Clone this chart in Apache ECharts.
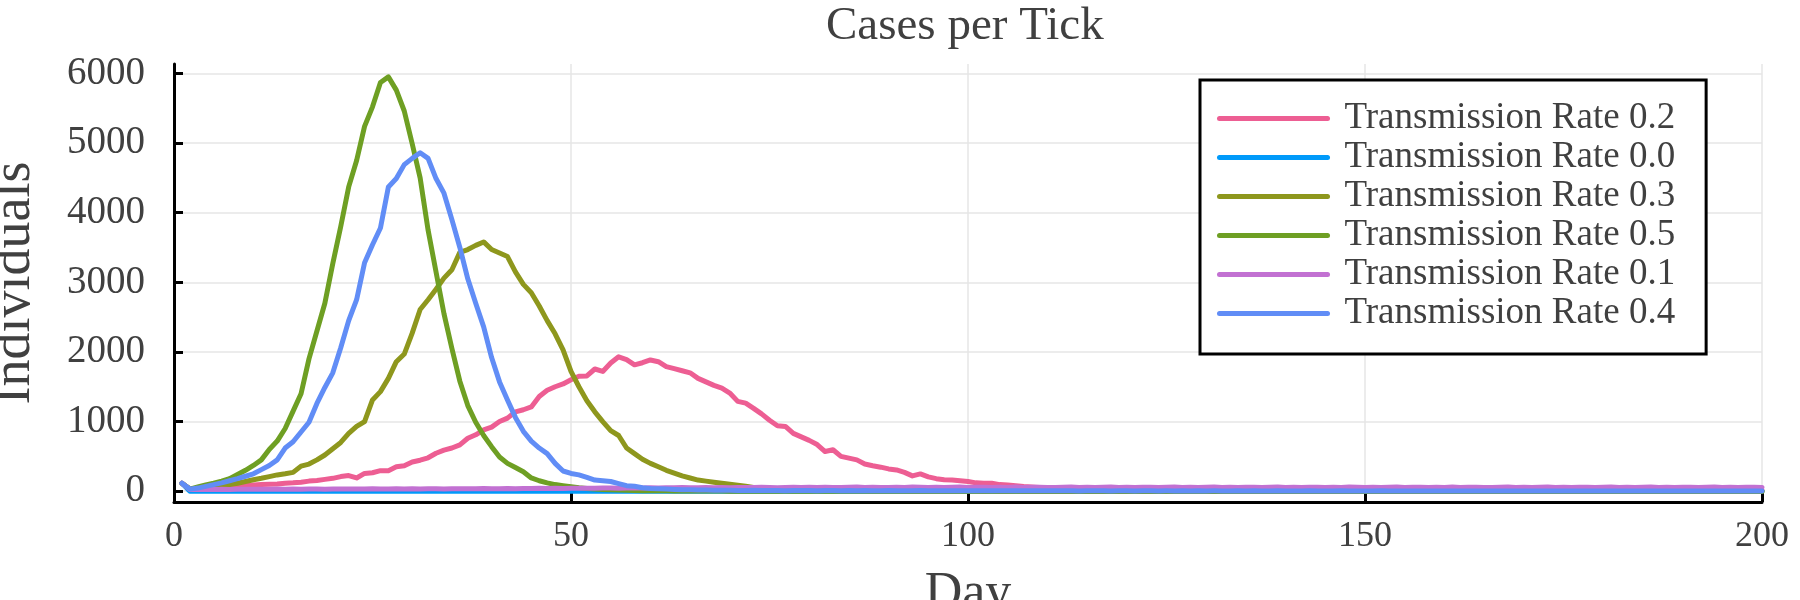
<!DOCTYPE html>
<html lang="en">
<head>
    <meta charset="UTF-8">
    <title>Cases per Tick</title>
    <script src="https://cdn.jsdelivr.net/npm/echarts@6.0.0/dist/echarts.min.js"></script>
    <style>
        html, body {
            margin: 0;
            padding: 0;
            background: #ffffff;
        }

        #chart {
            width: 1800px;
            height: 600px;
        }
    </style>
</head>
<body>
<div id="chart"></div>
<script>
    // day numbers 1..200
    var days = [];
    for (var d = 1; d <= 200; ++d) {
        days.push(d);
    }

    var seriesNames = ['Transmission Rate 0.2', 'Transmission Rate 0.0', 'Transmission Rate 0.3',
        'Transmission Rate 0.5', 'Transmission Rate 0.1', 'Transmission Rate 0.4'];
    var seriesColors = ['#ED5E93', '#009AFA', '#8E971D', '#6E9F23', '#C271D2', '#618DF6'];

    var xTicks = [0, 50, 100, 150, 200];
    var yTicks = [0, 1000, 2000, 3000, 4000, 5000, 6000];

    var rate02 = [
        114, 30, 35, 40, 50, 55, 65, 75, 80, 90,
        95, 100, 105, 115, 120, 130, 145, 155, 170, 185,
        210, 225, 190, 255, 265, 295, 295, 350, 365, 420,
        445, 480, 545, 590, 620, 665, 760, 810, 880, 920,
        1000, 1050, 1140, 1170, 1210, 1360, 1450, 1500, 1540, 1600,
        1650, 1655, 1755, 1720, 1840, 1930, 1890, 1815, 1845, 1885,
        1860, 1790, 1760, 1730, 1700, 1620, 1570, 1520, 1480, 1410,
        1290, 1265, 1190, 1110, 1020, 940, 930, 830, 780, 730,
        670, 570, 595, 500, 475, 450, 390, 365, 345, 320,
        305, 270, 220, 248, 205, 180, 165, 160, 150, 140,
        120, 115, 114, 95, 90, 80, 67, 60, 55, 52,
        48, 51, 44, 47, 40, 45, 38, 42, 36, 41,
        35, 39, 43, 34, 37, 31, 36, 33, 38, 30,
        34, 29, 35, 32, 27, 33, 30, 36, 28, 31,
        26, 32, 29, 25, 30, 27, 33, 24, 28, 26,
        23, 29, 25, 27, 22, 28, 24, 21, 26, 23,
        25, 20, 24, 22, 27, 19, 23, 21, 18, 24,
        20, 17, 22, 19, 23, 16, 21, 18, 20, 15,
        19, 22, 17, 14, 20, 16, 18, 15, 19, 13,
        17, 15, 18, 12, 16, 14, 17, 13, 15, 12
    ];

    var rate00 = [
        114, 0, 0, 1, 0, 0, 0, 0, 1, 0,
        0, 0, 0, 0, 0, 1, 0, 0, 0, 0,
        0, 0, 1, 0, 0, 0, 0, 0, 0, 0,
        0, 0, 0, 0, 1, 0, 0, 0, 0, 0,
        0, 0, 0, 0, 0, 0, 0, 1, 0, 0,
        0, 0, 0, 0, 0, 0, 0, 0, 0, 0,
        0, 0, 0, 0, 0, 0, 0, 0, 0, 0,
        0, 0, 0, 0, 0, 0, 0, 0, 0, 0,
        0, 0, 0, 0, 0, 0, 0, 0, 0, 0,
        0, 0, 0, 0, 0, 0, 0, 0, 0, 0,
        0, 0, 0, 0, 0, 0, 0, 0, 0, 0,
        0, 0, 0, 0, 0, 0, 0, 0, 0, 0,
        0, 0, 0, 0, 0, 0, 0, 0, 0, 0,
        0, 0, 0, 0, 0, 0, 0, 0, 0, 0,
        0, 0, 0, 0, 0, 0, 0, 0, 0, 0,
        0, 0, 0, 0, 0, 0, 0, 0, 0, 0,
        0, 0, 0, 0, 0, 0, 0, 0, 0, 0,
        0, 0, 0, 0, 0, 0, 0, 0, 0, 0,
        0, 0, 0, 0, 0, 0, 0, 0, 0, 0,
        0, 0, 0, 0, 0, 0, 0, 0, 0, 0
    ];

    var rate03 = [
        114, 30, 40, 55, 65, 80, 95, 115, 140, 165,
        186, 210, 234, 250, 270, 360, 390, 450, 520, 610,
        700, 830, 930, 1000, 1310, 1430, 1620, 1860, 1970, 2270,
        2610, 2750, 2900, 3060, 3180, 3430, 3470, 3530, 3580, 3470,
        3420, 3370, 3150, 2970, 2850, 2660, 2450, 2260, 2030, 1720,
        1500, 1300, 1140, 1000, 870, 800, 620, 540, 460, 400,
        350, 300, 260, 220, 190, 160, 145, 130, 115, 100,
        85, 70, 55, 45, 40, 35, 30, 28, 25, 22,
        20, 17, 15, 13, 12, 10, 9, 8, 7, 6,
        5, 5, 4, 4, 3, 3, 3, 2, 2, 2,
        2, 1, 2, 1, 1, 2, 1, 1, 0, 1,
        1, 0, 1, 1, 0, 1, 0, 1, 0, 0,
        1, 0, 0, 1, 0, 0, 0, 1, 0, 0,
        0, 0, 1, 0, 0, 0, 0, 0, 1, 0,
        0, 0, 0, 0, 0, 1, 0, 0, 0, 0,
        0, 0, 0, 0, 0, 0, 0, 0, 0, 0,
        0, 0, 0, 0, 0, 0, 0, 0, 0, 0,
        0, 0, 0, 0, 0, 0, 0, 0, 0, 0,
        0, 0, 0, 0, 0, 0, 0, 0, 0, 0,
        0, 0, 0, 0, 0, 0, 0, 0, 0, 0
    ];

    var rate05 = [
        114, 30, 60, 90, 115, 145, 180, 240, 300, 370,
        450, 600, 720, 900, 1150, 1400, 1900, 2300, 2700, 3270,
        3800, 4370, 4750, 5240, 5520, 5870, 5950, 5760, 5460, 4990,
        4500, 3750, 3150, 2550, 2050, 1580, 1230, 990, 800, 640,
        490, 400, 340, 280, 190, 150, 120, 95, 80, 65,
        50, 40, 32, 26, 20, 16, 13, 10, 8, 7,
        6, 5, 4, 4, 3, 3, 2, 2, 2, 1,
        1, 1, 0, 1, 0, 1, 0, 0, 1, 0,
        0, 0, 0, 1, 0, 0, 0, 0, 0, 0,
        0, 0, 0, 0, 0, 0, 0, 0, 0, 0,
        0, 0, 0, 0, 0, 0, 0, 0, 0, 0,
        0, 0, 0, 0, 0, 0, 0, 0, 0, 0,
        0, 0, 0, 0, 0, 0, 0, 0, 0, 0,
        0, 0, 0, 0, 0, 0, 0, 0, 0, 0,
        0, 0, 0, 0, 0, 0, 0, 0, 0, 0,
        0, 0, 0, 0, 0, 0, 0, 0, 0, 0,
        0, 0, 0, 0, 0, 0, 0, 0, 0, 0,
        0, 0, 0, 0, 0, 0, 0, 0, 0, 0,
        0, 0, 0, 0, 0, 0, 0, 0, 0, 0,
        0, 0, 0, 0, 0, 0, 0, 0, 0, 0
    ];

    var rate01 = [
        114, 25, 24, 26, 25, 27, 26, 28, 27, 29,
        28, 27, 30, 29, 31, 28, 30, 32, 29, 31,
        30, 33, 31, 32, 34, 30, 33, 35, 32, 34,
        33, 36, 34, 32, 35, 37, 34, 36, 38, 35,
        37, 39, 36, 40, 38, 41, 39, 42, 40, 43,
        41, 44, 42, 45, 47, 43, 46, 48, 45, 49,
        47, 50, 48, 52, 49, 51, 53, 50, 54, 51,
        53, 55, 52, 56, 54, 51, 55, 57, 53, 56,
        54, 58, 55, 52, 56, 59, 54, 57, 55, 53,
        57, 55, 59, 56, 53, 58, 55, 57, 60, 54,
        56, 58, 53, 57, 55, 59, 54, 56, 58, 55,
        53, 57, 60, 55, 58, 54, 56, 59, 55, 57,
        54, 58, 56, 53, 57, 60, 55, 58, 54, 56,
        59, 55, 57, 53, 56, 58, 54, 57, 60, 55,
        57, 54, 58, 56, 53, 57, 55, 59, 56, 54,
        58, 55, 57, 60, 54, 56, 58, 53, 57, 55,
        59, 54, 56, 58, 55, 53, 57, 60, 55, 58,
        54, 56, 59, 55, 57, 54, 58, 56, 53, 57,
        60, 55, 58, 54, 56, 59, 55, 57, 53, 56,
        58, 54, 57, 60, 55, 57, 54, 58, 56, 55
    ];

    var rate04 = [
        114, 30, 45, 70, 95, 120, 150, 180, 215, 250,
        310, 370, 450, 620, 710, 850, 990, 1260, 1490, 1700,
        2060, 2450, 2750, 3280, 3540, 3780, 4370, 4490, 4690, 4780,
        4860, 4780, 4490, 4280, 3900, 3500, 3050, 2700, 2360, 1920,
        1570, 1310, 1060, 860, 720, 620, 540, 400, 290, 255,
        235, 200, 160, 150, 140, 110, 80, 70, 50, 40,
        35, 30, 25, 22, 20, 18, 16, 15, 14, 12,
        11, 10, 12, 9, 11, 10, 8, 10, 9, 11,
        8, 9, 10, 7, 9, 8, 10, 7, 8, 9,
        7, 8, 6, 9, 7, 8, 6, 7, 8, 6,
        7, 5, 8, 6, 7, 5, 6, 7, 5, 6,
        6, 5, 7, 4, 6, 5, 6, 4, 5, 6,
        4, 5, 6, 4, 5, 4, 6, 3, 5, 4,
        5, 4, 3, 5, 4, 5, 3, 4, 5, 3,
        4, 3, 5, 4, 3, 4, 5, 3, 4, 3,
        4, 5, 3, 4, 3, 4, 2, 4, 3, 4,
        3, 4, 2, 3, 4, 3, 2, 4, 3, 3,
        2, 3, 4, 2, 3, 3, 2, 3, 4, 2,
        3, 2, 3, 3, 2, 4, 2, 3, 2, 3,
        2, 3, 2, 3, 2, 2, 3, 2, 3, 2
    ];

    var seriesValues = [rate02, rate00, rate03, rate05, rate01, rate04];

    var textColor = '#404040';
    var fontName = '"Liberation Serif", "DejaVu Serif", serif';

    function toPairs(values) {
        var out = [];
        for (var i = 0; i < values.length; ++i) {
            out.push([days[i], values[i]]);
        }
        return out;
    }

    var series = [];
    for (var s = 0; s < seriesNames.length; ++s) {
        series.push({
            name: seriesNames[s],
            type: 'line',
            symbol: 'none',
            showSymbol: false,
            color: seriesColors[s],
            lineStyle: {width: 5, color: seriesColors[s], cap: 'round', join: 'round'},
            emphasis: {disabled: true},
            data: toPairs(seriesValues[s])
        });
    }

    var chart = echarts.init(document.getElementById('chart'), null, {renderer: 'canvas'});
    chart.setOption({
        animation: false,
        backgroundColor: '#ffffff',
        title: {
            text: 'Cases per Tick',
            left: 826,
            top: 3,
            padding: 0,
            textStyle: {fontFamily: fontName, fontSize: 47, fontWeight: 'normal', color: textColor}
        },
        legend: {
            data: seriesNames,
            orient: 'vertical',
            align: 'left',
            left: 1200,
            top: 80,
            padding: [19, 31, 21, 17],
            itemGap: 0,
            itemWidth: 108,
            itemHeight: 14,
            backgroundColor: '#ffffff',
            borderColor: '#000000',
            borderWidth: 3,
            borderRadius: 0,
            lineStyle: {width: 5, cap: 'round'},
            itemStyle: {opacity: 0},
            textStyle: {
                fontFamily: fontName, fontSize: 37, color: textColor,
                lineHeight: 39, padding: [0, 0, 0, 12]
            }
        },
        grid: {left: 174, right: 38, top: 64, bottom: 98, containLabel: false, outerBoundsMode: 'none'},
        xAxis: {
            type: 'value',
            min: 0,
            max: 200,
            interval: 50,
            name: 'Day',
            nameLocation: 'middle',
            nameGap: 66,
            nameTextStyle: {fontFamily: fontName, fontSize: 52, color: textColor},
            axisLine: {show: true, onZero: false, lineStyle: {color: '#000000', width: 3}},
            axisTick: {show: true, inside: true, length: 9, lineStyle: {color: '#000000', width: 3}},
            axisLabel: {
                margin: 17, color: textColor, fontFamily: fontName, fontSize: 36,
                customValues: xTicks
            },
            splitLine: {show: true, lineStyle: {color: '#e6e6e6', width: 1.5}}
        },
        yAxis: {
            type: 'value',
            min: -155,
            max: 6135,
            name: 'Individuals',
            nameLocation: 'middle',
            nameGap: 132,
            nameTextStyle: {fontFamily: fontName, fontSize: 54, color: textColor},
            axisLine: {show: true, onZero: false, lineStyle: {color: '#000000', width: 3}},
            axisTick: {
                show: true, inside: true, length: 9, customValues: yTicks,
                lineStyle: {color: '#000000', width: 3}
            },
            axisLabel: {
                margin: 29, color: textColor, fontFamily: fontName, fontSize: 39,
                customValues: yTicks,
                formatter: function (v) {
                    return String(v);
                }
            },
            splitLine: {show: true, lineStyle: {color: '#e6e6e6', width: 1.5}}
        },
        series: series
    });
</script>
</body>
</html>
